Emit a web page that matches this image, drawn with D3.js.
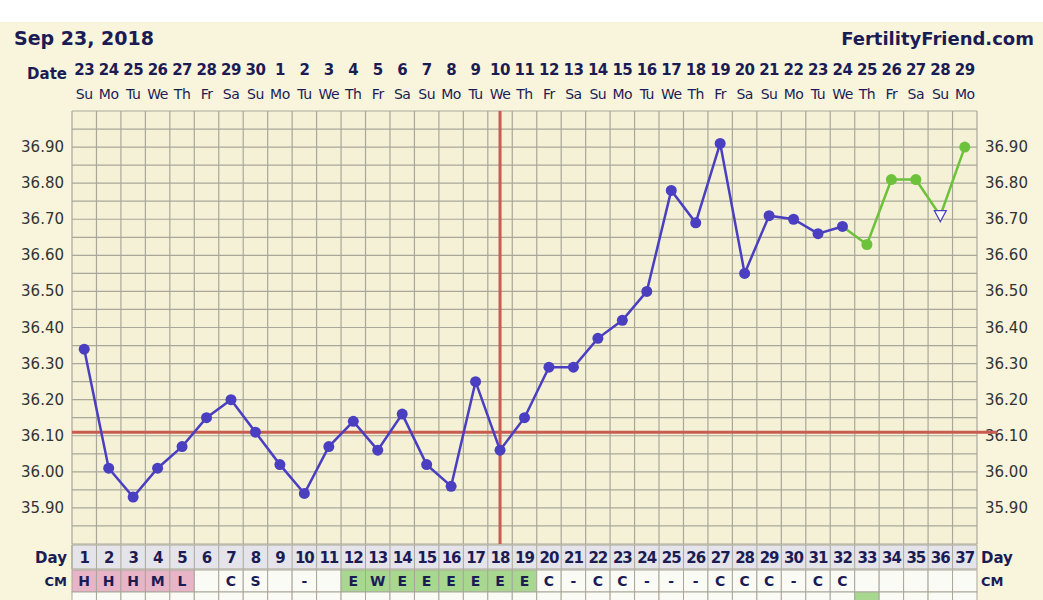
<!DOCTYPE html>
<html><head><meta charset="utf-8">
<script src="https://cdn.jsdelivr.net/npm/d3@7"></script>
<style>body{margin:0;background:#fff;font-family:"DejaVu Sans",Verdana,sans-serif}</style>
</head><body><svg id="c" width="1043" height="600"></svg>
<script>
// chart data
var dates = [23,24,25,26,27,28,29,30,1,2,3,4,5,6,7,8,9,10,11,12,13,14,15,16,17,18,19,20,21,22,23,24,25,26,27,28,29];
var weekdays = ["Su","Mo","Tu","We","Th","Fr","Sa"];
var temps = [36.34,36.01,35.93,36.01,36.07,36.15,36.20,36.11,36.02,35.94,36.07,36.14,36.06,36.16,36.02,35.96,36.25,36.06,36.15,36.29,36.29,36.37,36.42,36.50,36.78,36.69,36.91,36.55,36.71,36.70,36.66,36.68];
var futureTemps = [36.68,36.63,36.81,36.81,36.71,36.90]; // days 32..37
var openDays = [36]; // triangle marker
var cm = ["H","H","H","M","L","","C","S","","-","","E","W","E","E","E","E","E","E","C","-","C","C","-","-","-","C","C","C","-","C","C","","","","",""];
var yTicks = [36.90,36.80,36.70,36.60,36.50,36.40,36.30,36.20,36.10,36.00,35.90];
var coverline = 36.11, ovDay = 18;

var svg = d3.select("#c");
var left = 72, right = 977, topY = 111, bottom = 544;
var n = dates.length;
var x = d3.scaleBand().domain(d3.range(1, n+1)).range([left, right]);
var cx = function(d){ return x(d) + x.bandwidth()/2; };
var y = d3.scaleLinear().domain([35.80, 37.00]).range([bottom, topY]);

svg.append("rect").attr("x",0).attr("y",22).attr("width",1043).attr("height",578).attr("fill","#f8f5dc");
svg.append("rect").attr("x",left).attr("y",topY).attr("width",right-left).attr("height",bottom-topY).attr("fill","#f4f1d6");

var navy = "#1c1c55";
svg.append("text").attr("x",14).attr("y",45).text("Sep 23, 2018").attr("font-size",19).attr("font-weight","bold").attr("fill",navy);
svg.append("text").attr("x",1034).attr("y",45).text("FertilityFriend.com").attr("text-anchor","end").attr("font-size",18).attr("font-weight","bold").attr("fill",navy);
svg.append("text").attr("x",67).attr("y",79).text("Date").attr("text-anchor","end").attr("font-size",15).attr("font-weight","bold").attr("fill",navy);

var cols = d3.range(1, n+1);
svg.selectAll(".dt").data(cols).join("text").attr("x",cx).attr("y",75).attr("text-anchor","middle")
  .attr("font-size",15).attr("font-weight","bold").attr("fill",navy).attr("letter-spacing",-0.5).text(function(d){return dates[d-1];});
svg.selectAll(".wd").data(cols).join("text").attr("x",cx).attr("y",99).attr("text-anchor","middle")
  .attr("font-size",14).attr("fill",navy).attr("letter-spacing",-0.5).text(function(d){return weekdays[(d-1)%7];});

// grid
var g = svg.append("g").attr("stroke","#a9a79a").attr("stroke-width",1.2);
cols.concat([n+1]).forEach(function(d){
  var xx = d <= n ? x(d) : right;
  g.append("line").attr("x1",xx).attr("x2",xx).attr("y1",topY).attr("y2",bottom);
});
d3.range(0, 25).forEach(function(i){
  var yy = y(35.80 + i*0.05);
  g.append("line").attr("x1",left).attr("x2",right).attr("y1",yy).attr("y2",yy);
});

// y labels
[[left-8,"end"],[right+8,"start"]].forEach(function(s){
  svg.selectAll(null).data(yTicks).join("text").attr("x",s[0]).attr("y",function(d){return y(d)+5;})
    .attr("text-anchor",s[1]).attr("font-size",15).attr("fill","#333").text(function(d){return d.toFixed(2);});
});

// coverline and ovulation
svg.append("line").attr("x1",left).attr("x2",right+20).attr("y1",y(coverline)).attr("y2",y(coverline)).attr("stroke","#c85c50").attr("stroke-width",3);
svg.append("line").attr("x1",cx(ovDay)).attr("x2",cx(ovDay)).attr("y1",topY).attr("y2",bottom).attr("stroke","#c85c50").attr("stroke-width",3);

// temperature lines
var line = d3.line().x(function(d){return cx(d[0]);}).y(function(d){return y(d[1]);});
var pts = temps.map(function(t,i){return [i+1,t];});
var fpts = futureTemps.map(function(t,i){return [i+32,t];});
svg.append("path").datum(fpts).attr("d",line).attr("fill","none").attr("stroke","#6cc23a").attr("stroke-width",2.5);
svg.append("path").datum(pts).attr("d",line).attr("fill","none").attr("stroke","#4a3fc0").attr("stroke-width",2.5);
svg.selectAll(".p").data(pts).join("circle").attr("cx",function(d){return cx(d[0]);}).attr("cy",function(d){return y(d[1]);}).attr("r",5.5).attr("fill","#4a3fc0");
svg.selectAll(".f").data(fpts.slice(1).filter(function(d){return openDays.indexOf(d[0])<0;})).join("circle")
  .attr("cx",function(d){return cx(d[0]);}).attr("cy",function(d){return y(d[1]);}).attr("r",5.5).attr("fill","#6cc23a");
svg.selectAll(".t").data(fpts.filter(function(d){return openDays.indexOf(d[0])>=0;})).join("path")
  .attr("d",function(d){var X=cx(d[0]),Y=y(d[1]);return "M"+(X-6)+","+(Y-5)+"L"+(X+6)+","+(Y-5)+"L"+X+","+(Y+6)+"Z";})
  .attr("fill","#fff").attr("stroke","#4a3fc0").attr("stroke-width",1.2);

// Day row
var dayTop = 545, dayH = 24, cmTop = 570, cmH = 22;
svg.append("rect").attr("x",left).attr("y",dayTop).attr("width",right-left).attr("height",dayH).attr("fill","#e4e4ea").attr("stroke","#a9a79a");
svg.selectAll(".cm").data(cols).join("rect").attr("x",x).attr("y",cmTop).attr("width",x.bandwidth()).attr("height",cmH)
  .attr("fill",function(d){var c=cm[d-1];return "HML".indexOf(c)>=0&&c?"#e8b4c8":("EW".indexOf(c)>=0&&c?"#a8d890":"#fbfbf6");})
  .attr("stroke","#a9a79a");
svg.selectAll(".cmb").data(cols).join("rect").attr("x",x).attr("y",cmTop+cmH).attr("width",x.bandwidth()).attr("height",10)
  .attr("fill",function(d){return d===33?"#a8d890":"#fbfbf6";}).attr("stroke","#a9a79a");
g = svg.append("g");
cols.forEach(function(d){
  g.append("line").attr("x1",x(d)).attr("x2",x(d)).attr("y1",dayTop).attr("y2",dayTop+dayH).attr("stroke","#a9a79a");
});
svg.selectAll(".dy").data(cols).join("text").attr("x",cx).attr("y",dayTop+18).attr("text-anchor","middle")
  .attr("font-size",15).attr("font-weight","bold").attr("fill",navy).attr("letter-spacing",-1).text(function(d){return d;});
svg.selectAll(".cmt").data(cols).join("text").attr("x",cx).attr("y",cmTop+16).attr("text-anchor","middle")
  .attr("font-size",14).attr("font-weight","bold").attr("fill",navy).text(function(d){return cm[d-1];});
svg.append("text").attr("x",67).attr("y",dayTop+18).attr("text-anchor","end").attr("font-size",15).attr("font-weight","bold").attr("fill",navy).text("Day");
svg.append("text").attr("x",right+4).attr("y",dayTop+18).attr("font-size",15).attr("font-weight","bold").attr("fill",navy).text("Day");
svg.append("text").attr("x",67).attr("y",cmTop+16).attr("text-anchor","end").attr("font-size",13).attr("font-weight","bold").attr("fill",navy).text("CM");
svg.append("text").attr("x",right+4).attr("y",cmTop+16).attr("font-size",13).attr("font-weight","bold").attr("fill",navy).text("CM");
</script></body></html>
